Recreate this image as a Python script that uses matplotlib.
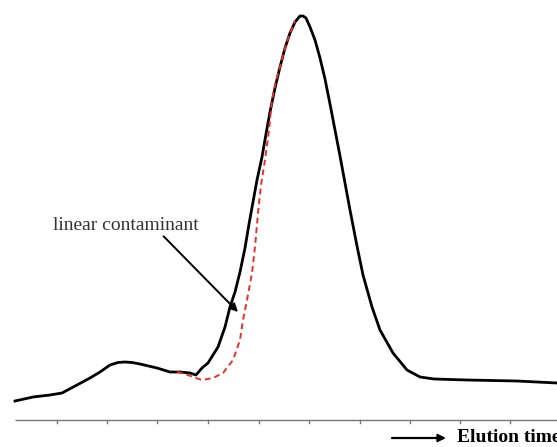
import matplotlib
matplotlib.use("Agg")
import matplotlib.pyplot as plt

# Elution profile (x = elution time, arbitrary units; y = detector signal)
black_x = [15, 33, 50, 62, 77, 90, 100, 110, 118, 125, 132, 140, 157, 170, 180,
           190, 196, 202, 208, 218, 225, 230, 235, 240, 245, 249, 253, 257,
           262, 266, 270, 275, 280, 285, 290, 295, 300, 303, 306, 310, 315, 320,
           325, 330, 335, 340, 345, 350, 357, 363, 372, 380, 393, 407, 420,
           434, 467, 517, 557]
black_y = [19, 23, 25, 27, 35, 42, 48, 55, 57.5, 58, 57.5, 56, 52, 48, 48,
           47, 45, 52, 57, 73, 93, 113, 128, 148, 172, 196, 218, 240,
           263, 286, 308, 332, 353, 372, 387, 398, 404, 404, 402, 393, 380, 362,
           341, 316, 290, 264, 237, 210, 174, 145, 113, 90, 67, 50, 43,
           41, 40, 39, 37]

# Linear contaminant (red dashed)
red_x = [177, 185, 193, 202, 213, 223, 233, 240, 243, 247, 252, 255, 258, 261,
         265, 269, 272, 276, 280, 285, 290, 295]
red_y = [48, 46, 43, 40, 42, 47, 60, 80, 100, 120, 147, 173, 207, 235,
         260, 290, 320, 340, 353, 372, 387, 399]

tick_pos = [57, 107, 157, 208, 259, 309, 360, 410, 460, 510]

fig = plt.figure(figsize=(5.57, 4.47), dpi=100)
ax = fig.add_axes([0, 0, 1, 1])
ax.set_xlim(0, 557)
ax.set_ylim(-27, 420)
ax.axis("off")

# baseline axis with ticks
ax.plot([15, 557], [0, 0], color="#777777", lw=1.0, solid_capstyle="butt")
for t in tick_pos:
    ax.plot([t, t], [0, -2.5], color="#777777", lw=1.0)

ax.plot(black_x, black_y, color="black", lw=2.0, solid_joinstyle="round", zorder=3)
ax.plot(red_x, red_y, color="#e8302a", lw=1.4, ls=(0, (3, 2)), zorder=4)

ax.annotate("linear contaminant", xy=(238, 108), xytext=(53, 195),
            fontsize=14, family="Liberation Serif", color="#333333",
            va="center", ha="left",
            arrowprops=dict(arrowstyle="-|>", color="black", lw=1.4,
                            shrinkA=0, shrinkB=0, mutation_scale=12,
                            relpos=(0.74, 0.0)))

ax.annotate("", xy=(446, -18), xytext=(392, -18),
            arrowprops=dict(arrowstyle="-|>", color="black", lw=1.6,
                            shrinkA=0, shrinkB=0, mutation_scale=11))
ax.text(457, -18, "Elution time", fontsize=14, family="Liberation Serif",
        fontweight="bold", va="center", ha="left", color="black")

fig.savefig("out.png", dpi=100)
